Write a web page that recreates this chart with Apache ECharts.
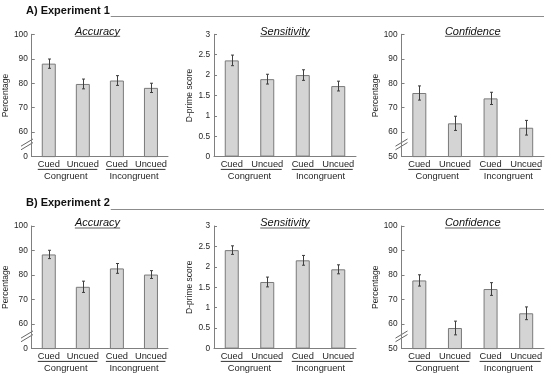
<!DOCTYPE html>
<html><head><meta charset="utf-8">
<script src="https://cdn.jsdelivr.net/npm/echarts@6/dist/echarts.min.js"></script>
<style>html,body{margin:0;padding:0;background:#fff}#c{width:550px;height:378px}</style>
</head><body><div id="c"></div>
<script>
// ---- data ----
const categories = ['Cued', 'Uncued', 'Cued', 'Uncued'];
const groups = ['Congruent', 'Incongruent'];
const panelHeaders = ['A) Experiment 1', 'B) Experiment 2'];
const measureTitles = ['Accuracy', 'Sensitivity', 'Confidence'];
const yNames = ['Percentage', 'D-prime score', 'Percentage'];

const exp1Accuracy = [88.0, 79.7, 81.1, 78.1];
const exp1AccuracyErr = [1.9, 2.0, 2.0, 1.9];
const exp1Sensitivity = [2.36, 1.90, 2.00, 1.73];
const exp1SensitivityErr = [0.13, 0.12, 0.13, 0.12];
const exp1Confidence = [76.0, 63.6, 73.8, 61.8];
const exp1ConfidenceErr = [2.9, 2.9, 2.5, 3.0];

const exp2Accuracy = [88.4, 75.2, 82.7, 80.2];
const exp2AccuracyErr = [1.7, 2.3, 2.0, 1.6];
const exp2Sensitivity = [2.41, 1.63, 2.16, 1.94];
const exp2SensitivityErr = [0.105, 0.12, 0.12, 0.11];
const exp2Confidence = [77.8, 58.4, 74.3, 64.4];
const exp2ConfidenceErr = [2.3, 2.8, 2.6, 2.6];

const pctTicks = [50, 100, 10];   // min, max, interval
const dprimeTicks = [0, 3, 0.5];

// ---- layout ----
const FONT = '"Liberation Sans", Arial, sans-serif';
const TXT = '#262626';
const AX = '#7f7f7f';
const cols = [{left: 27, width: 141}, {left: 214, width: 142}, {left: 401.5, width: 142.5}];
const rows = [{top: 34.3, height: 122.3, head: 11, line: 16.5}, {top: 226, height: 122.6, head: 203, line: 209.5}];

const panels = [];
const allData = [[exp1Accuracy, exp1Sensitivity, exp1Confidence], [exp2Accuracy, exp2Sensitivity, exp2Confidence]];
const allErr = [[exp1AccuracyErr, exp1SensitivityErr, exp1ConfidenceErr], [exp2AccuracyErr, exp2SensitivityErr, exp2ConfidenceErr]];
for (let r = 0; r < 2; r++) for (let c = 0; c < 3; c++) {
  panels.push({r, c, data: allData[r][c], err: allErr[r][c],
    ticks: c === 1 ? dprimeTicks : pctTicks, brk: c !== 1, zeroLabel: c === 0});
}

const chart = echarts.init(document.getElementById('c'), null, {renderer: 'canvas'});
const grid = [], xAxis = [], yAxis = [], series = [];
panels.forEach((p, i) => {
  const col = cols[p.c], row = rows[p.r];
  grid.push({left: col.left, top: row.top, width: col.width, height: row.height, containLabel: false});
  xAxis.push({type: 'category', gridIndex: i, data: categories, position: 'bottom',
    axisLine: {show: true, lineStyle: {color: AX, width: 1}},
    axisTick: {show: false},
    axisLabel: {fontSize: 9.3, color: TXT, margin: 3, fontFamily: FONT, interval: 0}});
  xAxis.push({type: 'category', gridIndex: i, data: groups, position: 'bottom', offset: 12,
    axisLine: {show: false}, axisTick: {show: false},
    axisLabel: {fontSize: 9.3, color: TXT, margin: 3, fontFamily: FONT, interval: 0}});
  const zl = p.zeroLabel, mn = p.ticks[0];
  yAxis.push({type: 'value', gridIndex: i, min: p.ticks[0], max: p.ticks[1], interval: p.ticks[2],
    name: yNames[p.c], nameLocation: 'middle', nameGap: 15, nameRotate: 90,
    nameTextStyle: {fontSize: 8.5, color: TXT, fontFamily: FONT},
    axisLine: {show: true, lineStyle: {color: AX, width: 1}},
    axisTick: {show: true, inside: true, length: 3, lineStyle: {color: AX}},
    splitLine: {show: false},
    axisLabel: {fontSize: 8.3, color: TXT, margin: 4, fontFamily: FONT,
      formatter: v => (zl && v === mn) ? '0' : String(v)}});
  series.push({type: 'bar', xAxisIndex: 2 * i, yAxisIndex: i, data: p.data, barWidth: 14, clip: true, z: 2,
    itemStyle: {color: '#d4d4d4', borderColor: '#7a7a7a', borderWidth: 1}, silent: true, animation: false});
  series.push({type: 'custom', xAxisIndex: 2 * i, yAxisIndex: i, silent: true, animation: false, z: 5,
    encode: {x: 0, y: [1, 2]},
    data: p.data.map((v, k) => [k, v - p.err[k], v + p.err[k]]),
    renderItem: (params, api) => {
      const k = api.value(0);
      const a = api.coord([k, api.value(1)]), b = api.coord([k, api.value(2)]);
      const x = Math.round(a[0]) + 0.5, w = 1.5;
      const st = {stroke: '#3f3f3f', lineWidth: 1};
      return {type: 'group', children: [
        {type: 'line', shape: {x1: x, y1: a[1], x2: x, y2: b[1]}, style: st},
        {type: 'line', shape: {x1: x - w, y1: a[1], x2: x + w, y2: a[1]}, style: st},
        {type: 'line', shape: {x1: x - w, y1: b[1], x2: x + w, y2: b[1]}, style: st}
      ]};
    }});
});

chart.setOption({animation: false, backgroundColor: '#fff', grid, xAxis, yAxis, series});

// ---- decorations computed from the axes ----
const ctx = document.createElement('canvas').getContext('2d');
function tw(text, font) { ctx.font = font; return ctx.measureText(text).width; }
const graphic = [];
rows.forEach((row, r) => {
  const hf = 'bold 11px ' + FONT;
  graphic.push({type: 'text', x: 26, y: row.head, silent: true,
    style: {text: panelHeaders[r], font: hf, fill: '#111', textAlign: 'left', textVerticalAlign: 'middle'}});
  const w = tw(panelHeaders[r], hf);
  graphic.push({type: 'line', silent: true, shape: {x1: 26 + w + 1, y1: row.line, x2: 544, y2: row.line},
    style: {stroke: '#8c8c8c', lineWidth: 1}});
});
panels.forEach((p, i) => {
  const col = cols[p.c], row = rows[p.r];
  const cx = col.left + col.width / 2;
  const tf = 'italic 11px ' + FONT;
  graphic.push({type: 'text', x: cx, y: row.top - 2.8, silent: true,
    style: {text: measureTitles[p.c], font: tf, fill: '#111', textAlign: 'center', textVerticalAlign: 'middle'}});
  const w = tw(measureTitles[p.c], tf);
  graphic.push({type: 'line', silent: true, shape: {x1: cx - w / 2, y1: row.top + 2, x2: cx + w / 2, y2: row.top + 2},
    style: {stroke: '#333', lineWidth: 0.8}});
  // group underlines
  const yBase = row.top + row.height + 12.8;
  for (let g = 0; g < 2; g++) {
    const xa = chart.convertToPixel({xAxisIndex: 2 * i}, 2 * g);
    const xb = chart.convertToPixel({xAxisIndex: 2 * i}, 2 * g + 1);
    graphic.push({type: 'line', silent: true, shape: {x1: xa - 11, y1: yBase, x2: xb + 14.5, y2: yBase},
      style: {stroke: '#333', lineWidth: 1}});
  }
  // axis break marks
  if (p.brk) {
    const ax = col.left;
    const yc = chart.convertToPixel({yAxisIndex: i}, p.ticks[0] + 5);
    graphic.push({type: 'rect', silent: true, shape: {x: ax - 1.5, y: yc - 1.8, width: 3, height: 3.6},
      style: {fill: '#fff'}});
    [-1.8, 1.8].forEach(off => {
      graphic.push({type: 'line', silent: true,
        shape: {x1: ax - 6, y1: yc + 3.6 + off, x2: ax + 6, y2: yc - 3.6 + off},
        style: {stroke: '#555', lineWidth: 0.9}});
    });
  }
});
chart.setOption({graphic});
</script></body></html>
